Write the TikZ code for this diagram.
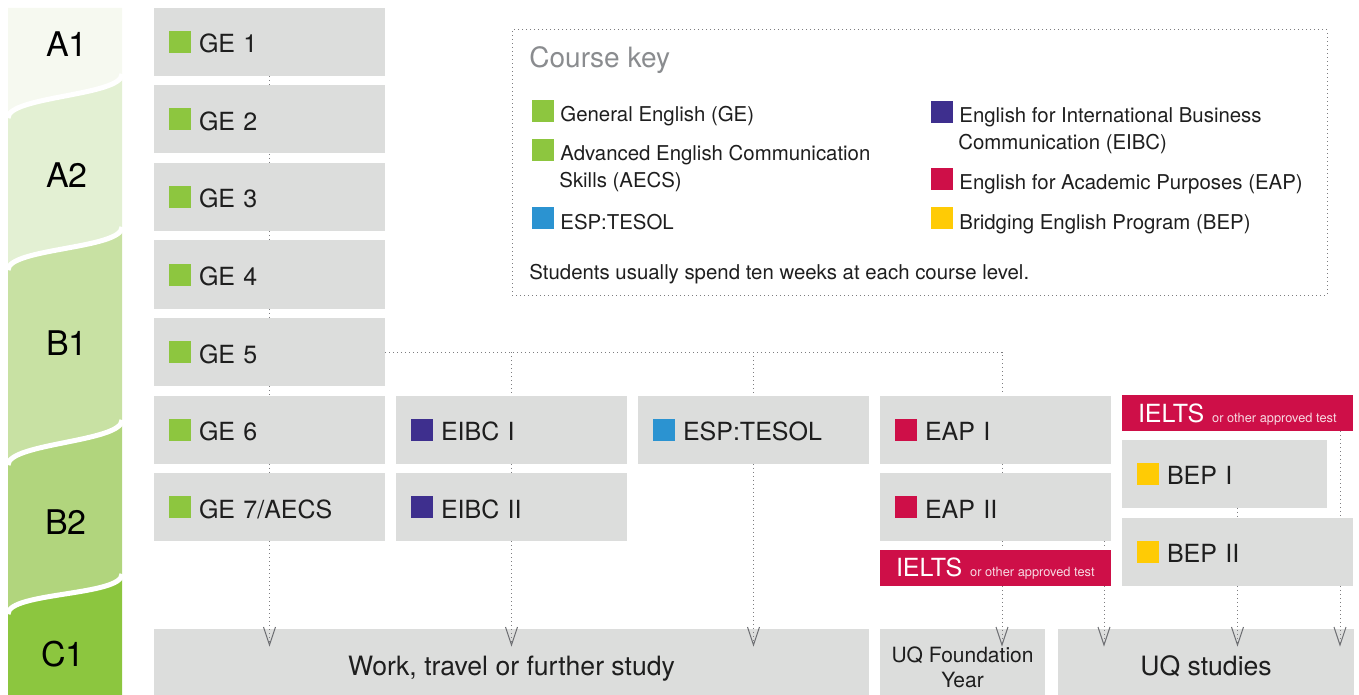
\documentclass[tikz,border=0pt]{standalone}
\usepackage{fontspec}
\setmainfont{TeX Gyre Heros}
\usetikzlibrary{arrows.meta}

\definecolor{boxgray}{RGB}{220,221,220}
\definecolor{gegreen}{RGB}{141,198,63}
\definecolor{eibcblue}{RGB}{62,47,142}
\definecolor{espblue}{RGB}{43,147,209}
\definecolor{eapred}{RGB}{206,15,72}
\definecolor{bepyellow}{RGB}{255,203,5}
\definecolor{lvla}{RGB}{246,249,240}
\definecolor{lvlb}{RGB}{227,240,211}
\definecolor{lvlc}{RGB}{200,225,163}
\definecolor{lvld}{RGB}{177,213,125}
\definecolor{lvle}{RGB}{140,198,63}
\definecolor{dotgray}{RGB}{125,125,128}
\definecolor{tipgray}{RGB}{110,111,115}
\definecolor{keygray}{RGB}{138,140,143}
\definecolor{inkblack}{RGB}{30,30,30}

\newcommand{\swatch}[1]{\textcolor{#1}{\rule{11pt}{11pt}}}
\newcommand{\approvedtest}{\mbox{IELTS\hspace{4pt}{\fontsize{6.4pt}{8pt}\selectfont\spaceskip=1.8pt\color{white!85!eapred}or other approved test}}}

\tikzset{
  course/.style={fill=boxgray, inner xsep=7.5pt, inner ysep=0pt, minimum height=34pt,
    text width=100.5pt, text height=11pt, text depth=0pt, align=left, text=inkblack,
    font=\fontsize{12.5pt}{15pt}\selectfont},
  outcome/.style={fill=boxgray, inner sep=0pt, minimum height=33pt, align=center,
    text=inkblack, text height=13pt, text depth=0pt, font=\fontsize{13.3pt}{16pt}\selectfont},
  test/.style={fill=eapred, text=white, inner xsep=8pt, inner ysep=0pt, minimum height=18pt,
    text width=99.5pt, text height=9pt, text depth=0pt, align=left,
    font=\fontsize{12.5pt}{15pt}\selectfont},
  level/.style={inner sep=0pt, text height=12.2pt, text depth=0pt,
    font=\fontsize{17pt}{20pt}\selectfont},
  keyitem/.style={anchor=base west, inner sep=0pt, align=left, text=inkblack,
    font=\fontsize{10.2pt}{13.5pt}\selectfont},
  link/.style={draw=dotgray, line width=0.5pt, dash pattern=on 0.5pt off 1.5pt},
  flow/.style={link, -{Straight Barb[length=9pt, width=6pt, color=tipgray]}, shorten >=-9pt},
}

\begin{document}
\begin{tikzpicture}[x=0.5pt, y=-0.5pt]
\useasboundingbox (0,0) rectangle (1359,695);

% level bands
\fill[lvla] (8,8) -- (122,8) -- (122,74) .. controls (122,96) and (8,96) .. (8,118) -- cycle;
\fill[lvlb] (8,118) .. controls (8,96) and (122,96) .. (122,74) -- (122,227)
  .. controls (122,249) and (8,248) .. (8,270) -- cycle;
\fill[lvlc] (8,270) .. controls (8,248) and (122,249) .. (122,227) -- (122,420)
  .. controls (122,442) and (8,443) .. (8,465) -- cycle;
\fill[lvld] (8,465) .. controls (8,443) and (122,442) .. (122,420) -- (122,574)
  .. controls (122,596) and (8,592) .. (8,614) -- cycle;
\fill[lvle] (8,614) .. controls (8,592) and (122,596) .. (122,574) -- (122,695) -- (8,695) -- cycle;
\draw[white, line width=2.5pt] (8,118) .. controls (8,96) and (122,96) .. (122,74);
\draw[white, line width=2.5pt] (8,270) .. controls (8,248) and (122,249) .. (122,227);
\draw[white, line width=2.5pt] (8,465) .. controls (8,443) and (122,442) .. (122,420);
\draw[white, line width=2.5pt] (8,614) .. controls (8,592) and (122,596) .. (122,574);

\node[level] (a1) at (67,44) {A1};
\node[level] (a2) at (67,175) {A2};
\node[level] (b1) at (67,343) {B1};
\node[level] (b2) at (66,522) {B2};
\node[level] (c1) at (63,654) {C1};

% courses
\foreach \i in {1,...,6}
  \node[course] (ge\i) at (269.5,{42+77.5*(\i-1)}) {\swatch{gegreen}\hspace{4pt}GE \i};
\node[course] (ge7) at (269.5,507) {\swatch{gegreen}\hspace{4pt}GE 7/AECS};
\node[course] (eibc1) at (511.5,429.5) {\swatch{eibcblue}\hspace{4pt}EIBC I};
\node[course] (eibc2) at (511.5,507) {\swatch{eibcblue}\hspace{4pt}EIBC II};
\node[course] (esp) at (753.5,429.5) {\swatch{espblue}\hspace{4pt}ESP:TESOL};
\node[course] (eap1) at (995.5,429.5) {\swatch{eapred}\hspace{4pt}EAP I};
\node[course] (eap2) at (995.5,507) {\swatch{eapred}\hspace{4pt}EAP II};
\node[test] (ielts1) at (995.5,567.5) {\approvedtest};
\node[test] (ielts2) at (1237.5,413) {\approvedtest};
\node[course, text width=87.5pt] (bep1) at (1224.5,473.5) {\swatch{bepyellow}\hspace{4pt}BEP I};
\node[course] (bep2) at (1237.5,551.5) {\swatch{bepyellow}\hspace{4pt}BEP II};

% outcomes
\node[outcome, minimum width=357.5pt] (work) at (511.5,662) {Work, travel or further study};
\node[outcome, minimum width=82.5pt, text height=25pt, font=\fontsize{10.5pt}{12.5pt}\selectfont]
  (found) at (962.5,662) {UQ Foundation\\Year};
\node[outcome, minimum width=148pt] (uq) at (1206,662) {UQ studies};

% key
\node[link, minimum width=407.5pt, minimum height=132.5pt, inner sep=0pt] (key) at (919.5,162.5) {};
\node[anchor=base west, inner sep=0pt, text=keygray, font=\fontsize{14pt}{16pt}\selectfont]
  (keyhead) at (529,68) {Course key};
\node[keyitem] (kge) at (532,122) {\swatch{gegreen}\hspace{3pt}General English (GE)};
\node[keyitem] (kaecs) at (532,188) {\swatch{gegreen}\hspace{3pt}Advanced English Communication\\\hspace{13.5pt}Skills (AECS)};
\node[keyitem] (kesp) at (532,229) {\swatch{espblue}\hspace{3pt}ESP:TESOL};
\node[keyitem] (keibc) at (931,150) {\swatch{eibcblue}\hspace{3pt}English for International Business\\\hspace{13.5pt}Communication (EIBC)};
\node[keyitem] (keap) at (931,190) {\swatch{eapred}\hspace{3pt}English for Academic Purposes (EAP)};
\node[keyitem] (kbep) at (931,229) {\swatch{bepyellow}\hspace{3pt}Bridging English Program (BEP)};
\node[keyitem] (knote) at (529,279) {Students usually spend ten weeks at each course level.};

% pathways
\coordinate (lane1) at (1002,0);
\coordinate (lane2) at (1104,0);
\coordinate (lane3) at (1340,0);
\foreach \a/\b in {ge1/ge2,ge2/ge3,ge3/ge4,ge4/ge5,ge5/ge6,ge6/ge7,eibc1/eibc2}
  \draw[link] (\a) -- (\b);
\draw[link] (ge5.east) -| (eap1.north -| lane1);
\draw[link] (ge5.east -| eibc1) -- (eibc1.north);
\draw[link] (ge5.east -| esp) -- (esp.north);
\draw[link] (eap1.south -| lane1) -- (eap2.north -| lane1);
\draw[link] (eap2.south -| lane1) -- (ielts1.north -| lane1);
\draw[link] (eap2.south -| lane2) -- (ielts1.north -| lane2);
\draw[link] (ielts2.south -| lane3) -- (bep2.north -| lane3);
\draw[link] (bep1.south -| bep2) -- (bep2.north);
\draw[flow] (ge7.south) -- (ge7.south |- work.north);
\draw[flow] (eibc2.south) -- (eibc2.south |- work.north);
\draw[flow] (esp.south) -- (esp.south |- work.north);
\draw[flow] (ielts1.south -| lane1) -- (found.north -| lane1);
\draw[flow] (ielts1.south -| lane2) -- (uq.north -| lane2);
\draw[flow] (bep2.south) -- (bep2.south |- uq.north);
\draw[flow] (bep2.south -| lane3) -- (uq.north -| lane3);
\end{tikzpicture}
\end{document}
